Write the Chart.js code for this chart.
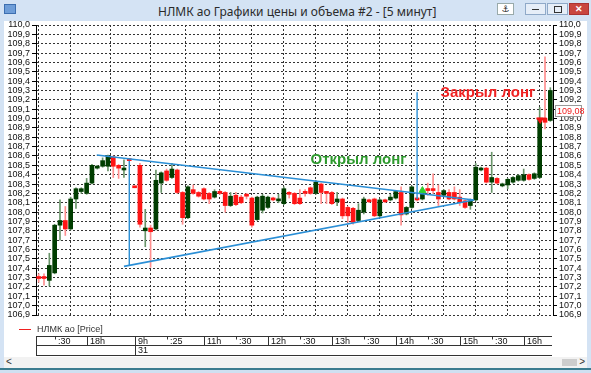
<!DOCTYPE html>
<html>
<head>
<meta charset="utf-8">
<script src="https://cdn.jsdelivr.net/npm/chart.js@4.4.1/dist/chart.umd.min.js"></script>
<style>
html, body { margin: 0; padding: 0; }
body { width: 591px; height: 373px; position: relative; overflow: hidden; background: #d4e3f4; font-family: "Liberation Sans", Arial, sans-serif; }
#title { position: absolute; left: 0; top: 0; width: 591px; height: 21px; background: #d4e3f4; }
#icon { position: absolute; left: 4px; top: 4px; width: 10px; height: 8px; background: #6f9ed8; border: 1px solid #3d6fb0; }
#ttext { position: absolute; left: 158px; top: 3px; font-size: 12px; font-family: "Noto Sans", sans-serif; color: #2b2b2b; white-space: nowrap; }
.btn { position: absolute; top: 3px; height: 12px; box-sizing: border-box; border: 1px solid #8fa9c8; background: #e6eef8; font-size: 9px; line-height: 10px; text-align: center; color: #222; }
#pin { left: 497px; width: 17px; background: #fff; border-color: #9aa; font-family: "DejaVu Sans"; }
#min { left: 525px; width: 21px; }
#max { left: 547px; width: 21px; }
#close { left: 569px; width: 20px; background: #c9463f; border-color: #a33; color: #fff; font-weight: bold; }
#min::after { content: ""; position: absolute; left: 6px; top: 5px; width: 7px; height: 1px; background: #333; }
#max::after { content: ""; position: absolute; left: 6px; top: 2px; width: 6px; height: 5px; border: 1px solid #333; }
#client { position: absolute; left: 4px; top: 21px; width: 583px; height: 336px; background: #fff; }
#scroll { position: absolute; left: 4px; top: 357px; width: 583px; height: 11px; background: #f2f2f2; font-size: 10px; line-height: 11px; color: #333; }
#sl { position: absolute; left: 2px; top: -1px; }
#sr { position: absolute; right: 2px; top: -1px; }
#thumb { position: absolute; left: 558px; top: 2px; width: 15px; height: 7px; background: #cdcdcd; }
#bottom { position: absolute; left: 0; top: 368px; width: 591px; height: 5px; background: #cfe0f1; border-top: 2px solid #3b7c8f; box-sizing: border-box; }
canvas { position: absolute; left: 0; top: 0; }
</style>
</head>
<body>
<div id="title">
  <div id="icon"></div>
  <span id="ttext">НЛМК ао Графики цены и объема #2 - [5 минут]</span>
  <div class="btn" id="pin">⚓</div>
  <div class="btn" id="min"></div>
  <div class="btn" id="max"></div>
  <div class="btn" id="close">✕</div>
</div>
<div id="client"></div>
<div id="scroll"><span id="sl">&lt;</span><div id="thumb"></div><span id="sr">&gt;</span></div>
<div id="bottom"></div>
<canvas id="chart" width="591" height="373"></canvas>
<script>
// 5-minute candles, 17:15 of the 30th to 16:25 of the 31st
const categories = [
  '17:15', '17:20', '17:25', '17:30', '17:35', '17:40', '17:45', '17:50', '17:55',
  '18:00', '18:05', '18:10', '18:15', '18:20', '18:25', '18:30', '18:35', '18:40',
  '09:55',
  '10:00', '10:05', '10:10', '10:15', '10:20', '10:25', '10:30', '10:35', '10:40', '10:45', '10:50', '10:55',
  '11:00', '11:05', '11:10', '11:15', '11:20', '11:25', '11:30', '11:35', '11:40', '11:45', '11:50', '11:55',
  '12:00', '12:05', '12:10', '12:15', '12:20', '12:25', '12:30', '12:35', '12:40', '12:45', '12:50', '12:55',
  '13:00', '13:05', '13:10', '13:15', '13:20', '13:25', '13:30', '13:35', '13:40', '13:45', '13:50', '13:55',
  '14:00', '14:05', '14:10', '14:15', '14:20', '14:25', '14:30', '14:35', '14:40', '14:45', '14:50', '14:55',
  '15:00', '15:05', '15:10', '15:15', '15:20', '15:25', '15:30', '15:35', '15:40', '15:45', '15:50', '15:55',
  '16:00', '16:05', '16:10', '16:15', '16:20', '16:25'
];

const opens = [
  107.31, 107.31, 107.27, 107.35, 107.86, 107.91, 107.82, 108.14, 108.22, 108.20,
  108.31, 108.47, 108.49, 108.49, 108.59, 108.50, 108.45, 108.56, 108.27, 108.50,
  107.80, 107.83, 107.82, 108.31, 108.44, 108.37, 108.45, 108.21, 107.94, 108.24,
  108.21, 108.25, 108.20, 108.16, 108.22, 108.21, 108.07, 108.18, 108.16, 108.18,
  108.15, 107.92, 108.02, 108.05, 108.15, 108.12, 108.09, 108.21, 108.20, 108.15,
  108.21, 108.26, 108.20, 108.30, 108.21, 108.21, 108.11, 108.14, 108.05, 108.04,
  107.91, 108.00, 108.13, 108.14, 107.96, 108.13, 108.13, 108.15, 108.21, 107.98,
  108.05, 108.15, 108.14, 108.25, 108.25, 108.21, 108.18, 108.21, 108.21, 108.16,
  108.12, 108.07, 108.13, 108.45, 108.47, 108.32, 108.36, 108.28, 108.29, 108.32,
  108.34, 108.34, 108.40, 108.36, 108.37, 109.00, 108.98
];
const highs = [
  107.34, 107.34, 107.56, 107.87, 108.13, 108.06, 108.16, 108.26, 108.26, 108.36,
  108.51, 108.50, 108.58, 108.61, 108.60, 108.51, 108.56, 108.57, 108.27, 108.52,
  108.03, 107.86, 108.45, 108.43, 108.46, 108.52, 108.46, 108.22, 108.28, 108.29,
  108.22, 108.26, 108.21, 108.24, 108.23, 108.22, 108.21, 108.21, 108.18, 108.20,
  108.16, 108.17, 108.19, 108.17, 108.16, 108.19, 108.27, 108.22, 108.21, 108.24,
  108.24, 108.27, 108.34, 108.31, 108.22, 108.22, 108.21, 108.15, 108.06, 108.05,
  108.09, 108.16, 108.14, 108.15, 108.14, 108.14, 108.19, 108.23, 108.27, 108.06,
  108.28, 108.16, 108.22, 108.31, 108.41, 108.29, 108.24, 108.24, 108.27, 108.24,
  108.13, 108.14, 108.52, 108.48, 108.48, 108.64, 108.37, 108.31, 108.36, 108.38,
  108.40, 108.46, 108.41, 108.42, 109.12, 109.66, 109.33
];
const lows = [
  107.25, 107.22, 107.21, 107.34, 107.70, 107.75, 107.81, 108.04, 108.20, 108.19,
  108.30, 108.46, 108.48, 108.44, 108.37, 108.36, 108.37, 108.55, 108.26, 107.84,
  107.63, 107.41, 107.81, 108.21, 108.33, 108.36, 108.20, 107.87, 107.93, 108.19,
  108.16, 108.13, 108.09, 108.15, 108.19, 108.00, 108.06, 108.07, 108.09, 108.14,
  107.84, 107.91, 107.99, 108.04, 108.12, 108.10, 108.08, 108.15, 108.08, 108.08,
  108.17, 108.19, 108.19, 108.09, 108.09, 108.08, 108.07, 107.93, 107.89, 107.87,
  107.90, 107.98, 108.10, 107.95, 107.95, 108.10, 108.12, 108.14, 107.86, 107.97,
  108.04, 108.12, 108.13, 108.18, 108.20, 108.07, 108.17, 108.13, 108.13, 108.07,
  108.04, 108.03, 108.12, 108.44, 108.31, 108.21, 108.30, 108.27, 108.25, 108.31,
  108.33, 108.33, 108.34, 108.35, 108.36, 108.89, 108.97
];
const closes = [
  107.29, 107.29, 107.43, 107.86, 107.91, 107.82, 108.14, 108.25, 108.25, 108.31,
  108.50, 108.49, 108.55, 108.60, 108.49, 108.47, 108.47, 108.55, 108.26, 107.87,
  107.83, 107.79, 108.34, 108.42, 108.34, 108.46, 108.21, 107.94, 108.27, 108.20,
  108.17, 108.14, 108.14, 108.22, 108.20, 108.07, 108.17, 108.08, 108.10, 108.17,
  107.86, 108.16, 108.17, 108.16, 108.13, 108.14, 108.25, 108.19, 108.09, 108.09,
  108.20, 108.20, 108.32, 108.21, 108.20, 108.09, 108.14, 107.96, 107.96, 107.89,
  108.02, 108.14, 108.11, 107.96, 108.13, 108.11, 108.16, 108.22, 107.97, 108.05,
  108.27, 108.13, 108.20, 108.23, 108.23, 108.14, 108.23, 108.14, 108.14, 108.11,
  108.05, 108.12, 108.48, 108.47, 108.32, 108.37, 108.31, 108.30, 108.35, 108.37,
  108.39, 108.40, 108.35, 108.41, 109.00, 108.96, 109.30
];

// time axis table (candle index of each mark)
const timeTicks = [3, 9, 18, 24, 31, 37, 43, 49, 55, 61, 67, 73, 79, 85, 91];
const timeLabels = [':30', '18h', '9h', ':25', '11h', ':30', '12h', ':30', '13h', ':30', '14h', ':30', '15h', ':30', '16h'];
const dayTick = 18;
const dayLabel = '31';

const priceMin = 106.9;
const priceMax = 110.0;
const priceStep = 0.1;
const lastPrice = 109.08;

// drawn lines, [candle index, price]
const upperTrend = [[10.9, 108.61], [81.7, 108.13]];
const lowerTrend = [[16.0, 107.42], [81.7, 108.13]];
const pole1 = [[17, 108.55], [17, 107.43]];
const pole2 = [[71, 109.28], [71, 108.14]];
const buyMark = [72, 108.23];
const sellMark = [94.1, 108.985];
const sellDash = [[93.4, 109.0], [95.3, 109.0]];
const noteTexts = ['Открыл лонг', 'Закрыл лонг'];
const noteAt = [[51.0, 108.56], [75.4, 109.27]];

const UP = '#003d00', UP_WICK = '#6a956a', DN = '#ff1414', DN_WICK = '#ff8e8e', BLUE = '#2b8fd6';
const up = closes.map((c, i) => c >= opens[i]);
const pts = a => a.map(p => ({ x: p[0], y: p[1] }));
const fmt = v => v.toFixed(1).replace('.', ',');
const FONT = '"Liberation Sans", Arial, sans-serif';

Chart.defaults.font.family = FONT;
Chart.defaults.font.size = 9;

const decor = {
  id: 'decor',
  afterDatasetsDraw(chart) {
    const { ctx, scales: { x, y } } = chart;
    ctx.save();
    ctx.font = 'bold 15px ' + FONT;
    ctx.textBaseline = 'middle';
    ['#2e9a2e', '#f02323'].forEach((col, k) => {
      ctx.fillStyle = col;
      ctx.fillText(noteTexts[k], x.getPixelForValue(noteAt[k][0]), y.getPixelForValue(noteAt[k][1]));
    });
    ctx.restore();
  },
  afterDraw(chart) {
    const { ctx, chartArea, scales: { x, y2 } } = chart;
    ctx.save();
    ctx.font = '9px ' + FONT;
    ctx.textBaseline = 'middle';

    // last price box
    const py = Math.round(y2.getPixelForValue(lastPrice));
    ctx.fillStyle = '#fff';
    ctx.fillRect(555, py - 6, 27, 12);
    ctx.strokeStyle = '#999';
    ctx.lineWidth = 1;
    ctx.strokeRect(555.5, py - 5.5, 26, 11);
    ctx.fillStyle = '#f01c1c';
    ctx.fillText(lastPrice.toFixed(2).replace('.', ','), 557, py + 0.5);

    // legend
    ctx.strokeStyle = '#f02020';
    ctx.beginPath(); ctx.moveTo(19, 329.5); ctx.lineTo(31, 329.5); ctx.stroke();
    ctx.fillStyle = '#333';
    ctx.fillText('НЛМК ао [Price]', 37, 329.5);

    // time table
    const L = chartArea.left, R = chartArea.right - 1;
    const t0 = 336.5, t1 = 345.5, t2 = 355.5;
    ctx.strokeStyle = '#333';
    ctx.beginPath();
    [t0, t1, t2].forEach(t => { ctx.moveTo(L, t); ctx.lineTo(R, t); });
    ctx.moveTo(L + 0.5, t0); ctx.lineTo(L + 0.5, t2);
    timeTicks.forEach((i, k) => {
      const px = Math.round(x.getPixelForValue(i)) + 0.5;
      const hour = timeLabels[k].endsWith('h');
      ctx.moveTo(px, t0); ctx.lineTo(px, hour ? t1 : t0 + 3);
    });
    const dx = Math.round(x.getPixelForValue(dayTick)) + 0.5;
    ctx.moveTo(dx, t1); ctx.lineTo(dx, t2);
    ctx.stroke();
    ctx.fillStyle = '#111';
    timeTicks.forEach((i, k) => {
      const px = Math.round(x.getPixelForValue(i));
      ctx.fillText(timeLabels[k], px + 3, (t0 + t1) / 2 + 0.5);
    });
    ctx.fillText(dayLabel, dx + 2.5, (t1 + t2) / 2 + 0.5);
    ctx.restore();
  }
};

const yTicks = {
  stepSize: priceStep, autoSkip: false, padding: 2, color: '#111',
  font: { size: 9 }, callback: v => fmt(v)
};

const lineSet = (data, color, width) => ({
  type: 'line', order: 0, data: pts(data), borderColor: color, borderWidth: width, pointRadius: 0
});

new Chart(document.getElementById('chart'), {
  type: 'bar',
  data: {
    labels: categories,
    datasets: [
      {
        label: 'bodies', order: 1, grouped: false,
        data: opens.map((o, i) => ({ x: i, y: [o, closes[i]] })),
        backgroundColor: up.map(u => u ? UP : DN),
        barThickness: 4, minBarLength: 2, borderWidth: 0
      },
      {
        label: 'wicks', order: 2, grouped: false,
        data: lows.map((l, i) => ({ x: i, y: [l, highs[i]] })),
        backgroundColor: up.map(u => u ? UP_WICK : DN_WICK),
        barThickness: 1, borderWidth: 0
      },
      lineSet(upperTrend, BLUE, 1.6),
      lineSet(lowerTrend, BLUE, 1.6),
      lineSet(pole1, BLUE, 1.4),
      lineSet(pole2, BLUE, 1.4),
      lineSet(sellDash, '#f01010', 2),
      {
        type: 'line', order: 0, showLine: false, data: pts([buyMark]),
        pointStyle: 'triangle', pointRadius: 4, pointBackgroundColor: '#2fd02f', pointBorderColor: '#2fd02f'
      },
      {
        type: 'line', order: 0, showLine: false, data: pts([sellMark]),
        pointStyle: 'triangle', pointRotation: 180, pointRadius: 3.5, pointBackgroundColor: '#f01010', pointBorderColor: '#f01010'
      }
    ]
  },
  options: {
    responsive: false,
    animation: false,
    events: [],
    layout: { padding: { left: 0, right: 0, top: 25, bottom: 58 } },
    plugins: { legend: { display: false }, tooltip: { enabled: false } },
    scales: {
      x: {
        type: 'linear', min: -0.5, max: categories.length - 0.5, offset: false,
        afterBuildTicks: s => { s.ticks = timeTicks.map(v => ({ value: v })); },
        ticks: { display: false },
        grid: { drawTicks: false, lineWidth: 1, color: '#333' },
        border: { display: false, dash: [2, 2] },
        afterFit: s => { s.height = 0; }
      },
      y: {
        position: 'left', min: priceMin, max: priceMax,
        ticks: yTicks,
        grid: { color: '#333', tickColor: '#000', tickLength: 4 },
        border: { display: true, color: '#000', dash: [2, 2] },
        afterFit: s => { s.width = 36; }
      },
      y2: {
        position: 'right', min: priceMin, max: priceMax,
        ticks: yTicks,
        grid: { drawOnChartArea: false, tickColor: '#000', tickLength: 4 },
        border: { display: true, color: '#000' },
        afterFit: s => { s.width = 38; }
      }
    }
  },
  plugins: [decor]
});
</script>
</body>
</html>
